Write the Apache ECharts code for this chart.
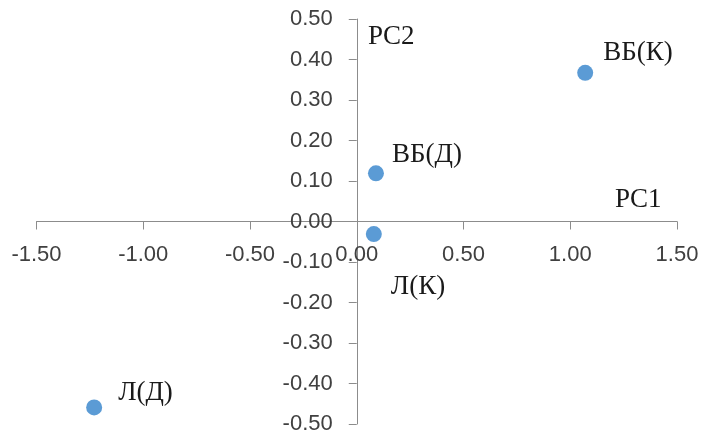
<!DOCTYPE html>
<html>
<head>
<meta charset="utf-8">
<script src="https://cdn.jsdelivr.net/npm/echarts@6/dist/echarts.min.js"></script>
<style>
html,body{margin:0;padding:0;background:#fff;}
#chart{width:701px;height:435px;}
</style>
</head>
<body>
<div id="chart"></div>
<script>
// Data
var pointNames = ['ВБ(К)', 'ВБ(Д)', 'Л(К)', 'Л(Д)'];
var pc1Values = [1.07, 0.09, 0.08, -1.23];
var pc2Values = [0.367, 0.119, -0.031, -0.459];
var xAxisName = 'PC1';
var yAxisName = 'PC2';
var xMin = -1.5, xMax = 1.5, xStep = 0.5;
var yMin = -0.5, yMax = 0.5, yStep = 0.1;

// Layout (style only)
var labelOffsets = [[18, -20], [16, -18], [17, 53], [24, -14]];
var W = 701, H = 435;
var gLeft = 36.5, gRight = 24, gTop = 19, gBottom = 11;
var gW = W - gLeft - gRight, gH = H - gTop - gBottom;
// shift axes so they cross at zero (axes drawn through the origin)
var xAxisShift = -gH * (0 - yMin) / (yMax - yMin);
var yAxisShift = -gW * (0 - xMin) / (xMax - xMin);

var chart = echarts.init(document.getElementById('chart'));
var data = pointNames.map(function (n, i) {
  return {
    name: n,
    value: [pc1Values[i], pc2Values[i]],
    label: { offset: labelOffsets[i] }
  };
});

var tickFont = { fontFamily: 'Liberation Sans, Arial, sans-serif', fontSize: 22, color: '#404040' };
var serifFont = '27px "Liberation Serif", "Times New Roman", serif';

chart.setOption({
  animation: false,
  grid: { left: gLeft, right: gRight, top: gTop, bottom: gBottom, containLabel: false, outerBoundsMode: 'none' },
  xAxis: {
    type: 'value', min: xMin, max: xMax, interval: xStep,
    position: 'bottom', offset: xAxisShift,
    axisLine: { onZero: false, lineStyle: { color: '#8c8c8c', width: 1 } },
    axisTick: { show: true, length: 8, lineStyle: { color: '#8c8c8c' } },
    splitLine: { show: false },
    axisLabel: Object.assign({ margin: 22, formatter: function (v) { return v.toFixed(2); } }, tickFont)
  },
  yAxis: {
    type: 'value', min: yMin, max: yMax, interval: yStep,
    position: 'left', offset: yAxisShift,
    axisLine: { onZero: false, lineStyle: { color: '#8c8c8c', width: 1 } },
    axisTick: { show: true, length: 8, lineStyle: { color: '#8c8c8c' } },
    splitLine: { show: false },
    axisLabel: Object.assign({ margin: 24, formatter: function (v) { return v.toFixed(2); } }, tickFont)
  },
  graphic: [
    { type: 'text', left: 368, top: 23, style: { text: yAxisName, font: serifFont, fill: '#1a1a1a' } },
    { type: 'text', left: 615, top: 186, style: { text: xAxisName, font: serifFont, fill: '#1a1a1a' } }
  ],
  series: [{
    type: 'scatter',
    symbolSize: 16,
    itemStyle: { color: '#5b9bd5', opacity: 1 },
    label: {
      show: true,
      position: 'inside',
      align: 'left',
      verticalAlign: 'middle',
      formatter: function (p) { return p.name; },
      fontFamily: 'Liberation Serif, Times New Roman, serif',
      fontSize: 27,
      color: '#1a1a1a'
    },
    data: data
  }]
});
</script>
</body>
</html>
